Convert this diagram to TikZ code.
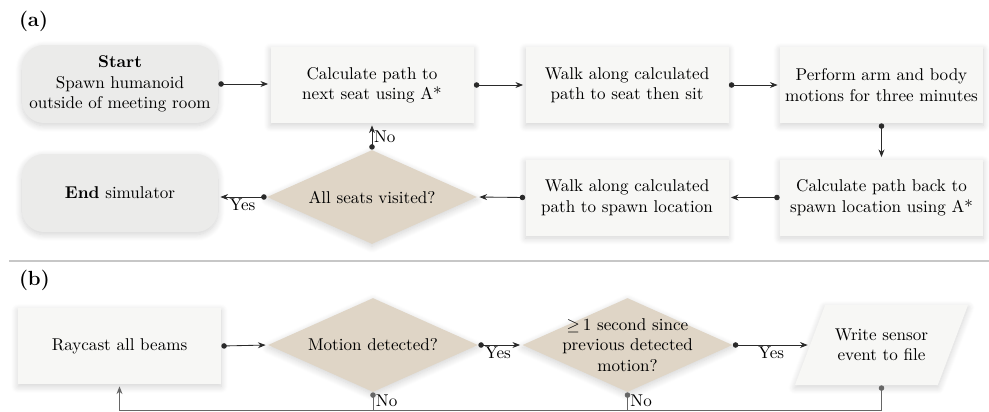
\documentclass[tikz,border=0pt]{standalone}
\usepackage{amssymb}
\usetikzlibrary{shapes.geometric,arrows.meta,shadows.blur,calc}
\newlength\pxu
\setlength\pxu{0.586pt}
\definecolor{boxfill}{HTML}{F7F7F5}
\definecolor{termfill}{HTML}{EBEBEA}
\definecolor{decfill}{HTML}{DFD5C6}
\definecolor{linecol}{HTML}{2A2A2A}
\definecolor{loopcol}{HTML}{666666}
\tikzset{
  shade/.style={blur shadow={shadow blur steps=8, shadow xshift=0pt, shadow yshift=-1.5pt, shadow blur radius=4pt, shadow opacity=18}},
  procbox/.style={rectangle, fill=boxfill, minimum width=203\pxu, minimum height=76\pxu, align=center, inner sep=0pt, shade},
  termbox/.style={rectangle, rounded corners=22\pxu, fill=termfill, minimum width=196\pxu, minimum height=78\pxu, align=center, inner sep=0pt, shade},
  decbox/.style={diamond, fill=decfill, aspect=2.24, minimum width=210\pxu, minimum height=94\pxu, inner sep=2pt, shade},
  iobox/.style={trapezium, trapezium left angle=75, trapezium right angle=105, trapezium stretches=true, fill=boxfill, minimum width=173\pxu, minimum height=80\pxu, inner sep=3pt, shade},
  intext/.style={align=center, inner sep=0pt},
  flow/.style={draw=linecol, line width=0.5pt, {Circle[length=3.2pt]}-{Stealth[length=4.5pt,width=3.5pt]}, shorten >=1.2pt},
  loopline/.style={draw=loopcol, line width=0.5pt},
  lbl/.style={font=\normalsize, inner sep=1pt},
}
\begin{document}
\begin{tikzpicture}[x=\pxu, y=-\pxu]
\useasboundingbox (0,0) rectangle (989,411);
% panel labels
\node[anchor=west, font=\large\bfseries] (la) at (13,21) {(a)};
\node[anchor=west, font=\large\bfseries] (lb) at (13,280) {(b)};
% separator
\coordinate (s1) at (9,261);
\coordinate (s2) at (989,261);
\draw[draw=black!22, line width=1.2pt] (s1) -- (s2);

% (a)
\node[termbox] (start) at (120,84) {\textbf{Start}\\Spawn humanoid\\outside of meeting room};
\node[procbox] (calc) at (372,85) {Calculate path to\\next seat using A*};
\node[procbox] (walk) at (627,85) {Walk along calculated\\path to seat then sit};
\node[procbox] (perf) at (881.5,85) {Perform arm and body\\motions for three minutes};
\node[procbox] (back) at (881.5,197.5) {Calculate path back to\\spawn location using A*};
\node[procbox] (walkb) at (627,197.5) {Walk along calculated\\path to spawn location};
\node[decbox] (alls) at (372,197) {};
\node[intext] (allstext) at (alls.center) {All seats visited?};
\node[termbox] (end) at (120,193) {\textbf{End} simulator};

\draw[flow] (start.east) -- (start.east -| calc.west);
\draw[flow] (calc.east) -- (walk.west);
\draw[flow] (walk.east) -- (perf.west);
\draw[flow] (perf.south) -- (back.north);
\draw[flow] (back.west) -- (walkb.east);
\draw[flow] (walkb.west) -- (alls.east);
\draw[flow] (alls.west) -- node[lbl, below] {Yes} (alls.west -| end.east);
\draw[flow] (alls.north) -- node[lbl, right] {No} (alls.north |- calc.south);

% (b)
\node[procbox] (ray) at (119.5,346) {Raycast all beams};
\node[decbox] (mot) at (373,345) {};
\node[intext] (mottext) at (mot.center) {Motion detected?};
\node[decbox] (sec) at (627.5,345) {};
\node[intext] (sectext) at (sec.center) {$\geq$\,1 second since\\previous detected\\motion?};
\node[iobox] (wr) at (881.5,345) {};
\node[intext] (wrtext) at (wr.center) {Write sensor\\event to file};
\coordinate (bot) at (881.5,410);

\draw[flow] (ray.east) -- (mot.west);
\draw[flow] (mot.east) -- node[lbl, below, pos=0.45] {Yes} (sec.west);
\draw[flow] (sec.east) -- node[lbl, below] {Yes} (wr.west);
\draw[loopline, {Circle[length=3.2pt]}-{Stealth[length=4.5pt,width=3.5pt]}, shorten >=1.2pt]
  (wr.south) -- (bot) -- (bot -| ray.south) -- (ray.south);
\draw[loopline, {Circle[length=3.2pt]}-] (mot.south) -- (mot.south |- bot) node[lbl, anchor=south west, inner sep=1.5pt] (nomot) {No};
\draw[loopline, {Circle[length=3.2pt]}-] (sec.south) -- (sec.south |- bot) node[lbl, anchor=south west, inner sep=1.5pt] (nosec) {No};
\end{tikzpicture}
\end{document}
